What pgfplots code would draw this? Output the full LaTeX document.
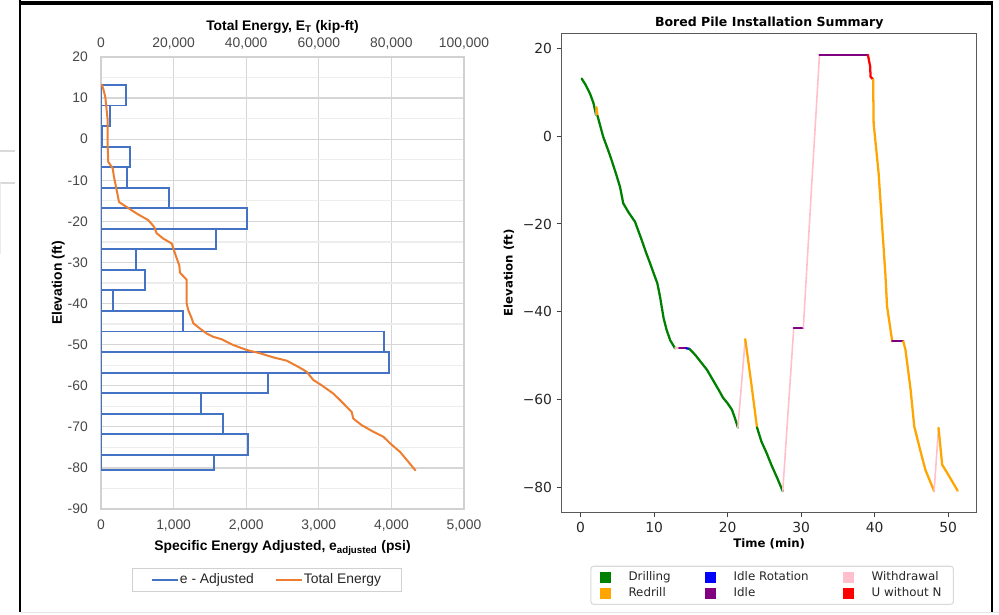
\documentclass[border=0pt]{standalone}
\usepackage{fontspec}
\setmainfont{Liberation Sans}
\newfontfamily\djv{DejaVu Sans}
\usepackage{pgfplots}
\pgfplotsset{compat=1.18}
\definecolor{xlblue}{HTML}{4472C4}
\definecolor{xlorange}{HTML}{ED7D31}
\definecolor{mgreen}{HTML}{008000}
\definecolor{morange}{HTML}{FFA500}
\definecolor{mpink}{HTML}{FFC0CB}
\definecolor{mpurple}{HTML}{800080}
\definecolor{mblue}{HTML}{0000FF}
\definecolor{mred}{HTML}{FF0000}
\pgfplotsset{
  /pgf/number format/assume math mode=true,
  /pgf/number format/fixed,
  /pgf/number format/1000 sep={,},
  leftpanel/.style={
    at={(75.75pt,78.75pt)}, anchor=south west,
    scale only axis, width=272.25pt, height=339pt,
    ymin=-90, ymax=20,
    major tick length=0pt, minor tick length=0pt,
    scaled x ticks=false,
    axis line style={draw=black!18, line width=0.9pt},
    tick label style={font=\fontsize{10.4}{12}\selectfont, text=black!72},
    label style={font=\bfseries\fontsize{10.4}{12}\selectfont},
  },
  seg/.style={line width=1.7pt, line join=round, line cap=round, forget plot},
  wd/.style={seg, mpink, line width=1.2pt},
}
\begin{document}
\begin{tikzpicture}[x=0.75pt,y=0.75pt]
\useasboundingbox (0,0) rectangle (999,614);
% screenshot frame
\draw[line width=3pt] (19,611) -- (993,611);
\draw[line width=1.6pt] (20,614) -- (20,2);
\draw[line width=2pt] (992,613) -- (992,2);
\draw[black!15, line width=0.8pt] (0,463) -- (15,463);
\draw[black!15, line width=0.8pt] (0,431) -- (15,431);
\draw[black!8, line width=0.8pt] (0.5,431) -- (0.5,360);
\draw[black!10, line width=0.8pt] (20,1.5) -- (999,1.5);

% ---- left panel: specific energy (bars) ----
\begin{axis}[leftpanel,
  xmin=0, xmax=5000,
  xtick={0,1000,...,5000},
  ytick={-90,-80,...,20},
  minor ytick={-85,-75,...,15},
  grid=both,
  major grid style={draw=black!16, line width=0.9pt},
  minor grid style={draw=black!7, line width=0.9pt},
  xticklabel style={anchor=base, yshift=-15.4pt, inner sep=0pt},
  yticklabel style={anchor=east, xshift=-9.75pt, inner sep=0pt},
  xlabel={Specific Energy Adjusted, e\textsubscript{adjusted} (psi)},
  xlabel style={at={(axis description cs:0.5,-0.0863)}, anchor=center},
  ylabel={Elevation (ft)},
  ylabel style={at={(axis description cs:-0.118,0.5)}, anchor=center},
]
\addplot[xlblue, line width=1.4pt, line join=miter] coordinates {
 (0,13.2) (340,13.2) (340,8.2) (0,8.2) (128,8.2) (128,3.2) (0,3.2)
 (18,3.2) (18,-1.8) (0,-1.8) (400,-1.8) (400,-6.8) (0,-6.8)
 (362,-6.8) (362,-11.8) (0,-11.8) (932,-11.8) (932,-16.8) (0,-16.8)
 (2011,-16.8) (2011,-21.8) (0,-21.8) (1588,-21.8) (1588,-26.8) (0,-26.8)
 (478,-26.8) (478,-31.8) (0,-31.8) (602,-31.8) (602,-36.8) (0,-36.8)
 (170,-36.8) (170,-41.8) (0,-41.8) (1125,-41.8) (1125,-46.8) (0,-46.8)
 (3903,-46.8) (3903,-51.8) (0,-51.8) (3967,-51.8) (3967,-56.8) (0,-56.8)
 (2296,-56.8) (2296,-61.8) (0,-61.8) (1382,-61.8) (1382,-66.8) (0,-66.8)
 (1685,-66.8) (1685,-71.8) (0,-71.8) (2025,-71.8) (2025,-76.8) (0,-76.8)
 (1552,-76.8) (1552,-80.6) (0,-80.6) (0,13.2)
};
\end{axis}

% ---- left panel: total energy (top axis) ----
\begin{axis}[leftpanel,
  xmin=0, xmax=100000,
  axis x line*=top, axis y line=none,
  xtick={0,20000,40000,60000,80000,100000},
  xticklabels={0,{20,000},{40,000},{60,000},{80,000},{100,000}},
  xticklabel style={anchor=base, yshift=7.1pt, inner sep=0pt},
  xlabel={Total Energy, E\textsubscript{T} (kip-ft)},
  xlabel style={at={(axis description cs:0.5,1.067)}, anchor=center},
  legend columns=2,
  legend image code/.code={\draw[#1] (0pt,0pt) -- (19pt,0pt);},
  legend style={at={(axis description cs:0.457,-0.157)}, anchor=center,
    draw=black!18, line width=0.8pt, inner xsep=14pt, inner ysep=2pt,
    font=\fontsize{10.4}{12}\selectfont, text=black!85,
    nodes={inner xsep=1pt},
    /tikz/every even column/.append style={column sep=15pt}},
]
\addlegendimage{xlblue, line width=1.4pt}
\addlegendentry{e - Adjusted}
\addplot[xlorange, line width=1.5pt, line join=round] coordinates {
 (200,13.4) (700,12.0) (1180,10.3) (1460,7.9) (1840,4.6) (1840,-1.9)
 (2000,-5.5) (3220,-7.1) (3580,-9.2) (4320,-12.4) (4960,-15.3) (7080,-16.5)
 (9830,-18.1) (13030,-19.7) (14600,-21.3) (15340,-22.9) (17160,-24.2)
 (19480,-25.4) (20390,-27.8) (21020,-29.4) (21570,-30.7) (21760,-32.5)
 (23600,-34.2) (23600,-40.0) (24050,-41.6) (24980,-43.6) (25430,-44.8)
 (27270,-46.1) (29110,-47.3) (30950,-48.1) (33250,-48.7) (36450,-50.1)
 (40130,-51.3) (43800,-52.1) (47460,-53.1) (51150,-53.9) (54350,-55.4)
 (56650,-56.6) (58490,-58.6) (60790,-59.9) (63990,-61.9) (66300,-63.9)
 (69060,-66.4) (69500,-68.0) (71820,-69.6) (75020,-71.2) (77770,-72.4)
 (79610,-74.0) (82370,-76.1) (84660,-78.5) (86690,-80.7)
};
\addlegendentry{Total Energy}
\end{axis}

% ---- right panel: installation summary ----
\begin{axis}[
  at={(421.3pt,76.3pt)}, anchor=south west,
  scale only axis, width=311.25pt, height=359.25pt,
  xmin=-2.57, xmax=53.9, ymin=-85.6, ymax=23.4,
  xtick={0,10,...,50}, ytick={-80,-60,...,20},
  yticklabels={−80,−60,−40,−20,0,20},
  tick align=outside, xtick pos=left, ytick pos=left,
  major tick length=3.75pt,
  every tick/.style={black!75, line width=0.75pt},
  axis line style={black!65, line width=0.9pt},
  tick label style={font=\djv\fontsize{10.4}{12}\selectfont, text=black!85},
  label style={font=\djv\bfseries\fontsize{8.8}{10}\selectfont},
  title={Bored Pile Installation Summary},
  title style={font=\djv\bfseries\fontsize{9.4}{11}\selectfont, at={(axis description cs:0.5,1.0048)}, anchor=center, yshift=0pt},
  xlabel={Time (min)},
  xlabel style={at={(axis description cs:0.5,-0.0668)}, anchor=center},
  ylabel={Elevation (ft)},
  ylabel style={at={(axis description cs:-0.127,0.5)}, anchor=center},
  legend columns=3,
  legend cell align=left,
  legend image code/.code={\fill[#1, sharp corners] (0pt,-4.1pt) rectangle (8.2pt,4.1pt);},
  legend style={at={(axis description cs:0.507,-0.1524)}, anchor=center,
    draw=black!15, line width=0.8pt, rounded corners=2pt,
    inner xsep=7pt, inner ysep=2pt,
    font=\djv\fontsize{8.9}{10}\selectfont, text=black!85,
    /tikz/every odd column/.append style={column sep=11pt},
    /tikz/every even column/.append style={column sep=24pt}},
]
\addlegendimage{draw=none, fill=mgreen}\addlegendentry{Drilling}
\addlegendimage{draw=none, fill=mblue}\addlegendentry{Idle Rotation}
\addlegendimage{draw=none, fill=mpink}\addlegendentry{Withdrawal}
\addlegendimage{draw=none, fill=morange}\addlegendentry{Redrill}
\addlegendimage{draw=none, fill=mpurple}\addlegendentry{Idle}
\addlegendimage{draw=none, fill=mred}\addlegendentry{U without N}

\addplot[seg, mgreen] coordinates {(0.14,13.1) (0.7,11.6) (1.27,9.7) (1.75,7.5) (2.1,4.8)};
\addplot[wd] coordinates {(2.1,4.8) (2.15,6.6)};
\addplot[seg, morange] coordinates {(2.15,6.6) (2.3,4.6)};
\addplot[seg, mgreen] coordinates {
 (2.3,4.6) (3.08,-0.2) (3.7,-3.0) (4.22,-5.5) (4.8,-8.5) (5.35,-11.5)
 (5.8,-15.3) (6.5,-17.3) (7.4,-19.5) (8.3,-23.6) (8.9,-26.5) (9.44,-28.9)
 (10.0,-31.5) (10.44,-33.5) (10.8,-36.5) (11.03,-38.8) (11.3,-41.5)
 (11.7,-44.1) (12.2,-46.5) (12.85,-48.3)};
\addplot[wd, line width=1.6pt] coordinates {(12.85,-48.3) (13.4,-48.3)};
\addplot[seg, mpurple] coordinates {(13.4,-48.3) (14.4,-48.3)};
\addplot[seg, mblue] coordinates {(14.4,-48.3) (14.8,-48.4)};
\addplot[seg, mgreen] coordinates {
 (14.8,-48.4) (15.6,-49.8) (16.4,-51.5) (17.2,-53.2) (18.0,-55.5)
 (18.8,-57.8) (19.4,-59.6) (20.0,-60.8) (20.6,-62.3) (21.0,-64.2) (21.4,-66.3)};
\addplot[wd] coordinates {(21.4,-66.3) (22.4,-46.2)};
\addplot[seg, morange] coordinates {(22.4,-46.2) (23.2,-56.0) (24.0,-66.3)};
\addplot[seg, mgreen] coordinates {(24.0,-66.3) (24.6,-69.5) (25.3,-72.1) (26.0,-75.0) (26.8,-78.0) (27.5,-80.8)};
\addplot[wd] coordinates {(27.5,-80.8) (29.0,-43.7)};
\addplot[seg, mpurple] coordinates {(29.0,-43.7) (30.3,-43.7)};
\addplot[wd] coordinates {(30.3,-43.7) (31.4,-12.3) (32.5,18.4)};
\addplot[seg, mpurple] coordinates {(32.5,18.4) (39.1,18.4)};
\addplot[seg, mred] coordinates {(39.1,18.4) (39.4,15.8) (39.45,13.5) (39.8,12.9)};
\addplot[seg, morange] coordinates {(39.8,12.9) (39.87,2.9) (40.55,-8.5) (41.0,-19.8) (41.46,-31.2) (41.7,-38.8) (42.4,-46.7)};
\addplot[seg, mpurple] coordinates {(42.4,-46.7) (43.9,-46.7)};
\addplot[seg, morange] coordinates {(43.9,-46.7) (44.2,-48.6) (44.9,-57.7) (45.4,-66.1) (46.2,-71.4) (46.9,-75.9) (48.1,-80.8)};
\addplot[wd] coordinates {(48.1,-80.8) (48.7,-66.4)};
\addplot[seg, morange] coordinates {(48.7,-66.4) (49.2,-74.8) (49.9,-76.7) (51.3,-80.7)};
\end{axis}
\end{tikzpicture}
\end{document}
